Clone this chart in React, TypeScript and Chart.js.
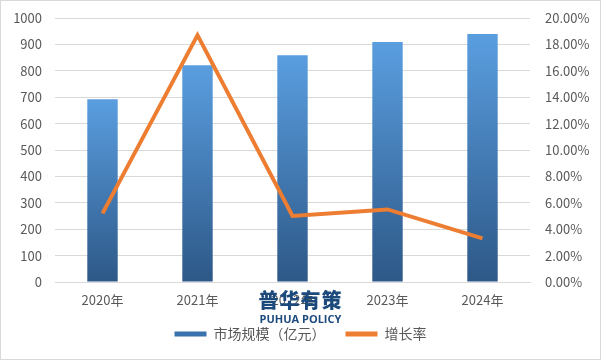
import React, { useEffect, useRef } from "react";
import { Chart, registerables } from "chart.js";

Chart.register(...registerables);

const categories = ["2020年", "2021年", "2022年", "2023年", "2024年"];
const marketSize = [692, 821, 859, 909, 939];
const growthRate = [5.2, 18.7, 5.0, 5.5, 3.3];
const seriesNames = ["市场规模（亿元）", "增长率"];

const TICK_COLOR = "#595959";
const FONT = "'Noto Sans CJK SC', 'Noto Sans', sans-serif";

export default function App() {
  const canvasRef = useRef<HTMLCanvasElement | null>(null);

  useEffect(() => {
    const canvas = canvasRef.current;
    if (!canvas) return;
    const chart = new Chart(canvas, {
      type: "bar",
      data: {
        labels: categories,
        datasets: [
          {
            type: "line",
            label: seriesNames[1],
            data: growthRate,
            yAxisID: "y1",
            borderColor: "#ED7D31",
            backgroundColor: "#ED7D31",
            borderWidth: 4,
            pointRadius: 0,
            tension: 0,
            order: 0,
          } as any,
          {
            type: "bar",
            label: seriesNames[0],
            data: marketSize,
            yAxisID: "y",
            categoryPercentage: 1,
            barPercentage: 0.32,
            order: 1,
            backgroundColor: (ctx: any) => {
              const ch = ctx.chart;
              const area = ch.chartArea;
              const yScale = ch.scales && ch.scales.y;
              if (!area || !yScale || ctx.type !== "data") return "#3f7cc0";
              const top = yScale.getPixelForValue(ctx.raw);
              const g = ch.ctx.createLinearGradient(0, top, 0, area.bottom);
              g.addColorStop(0, "#5A9EE0");
              g.addColorStop(1, "#2D5887");
              return g;
            },
          } as any,
        ],
      },
      options: {
        responsive: false,
        animation: false,
        maintainAspectRatio: false,
        layout: { padding: { top: 17, bottom: 8, left: 0, right: 0 } },
        plugins: {
          tooltip: { enabled: false },
          legend: {
            position: "bottom",
            labels: {
              boxWidth: 32,
              boxHeight: 5,
              padding: 20,
              color: TICK_COLOR,
              font: { family: FONT, size: 14 },
              generateLabels: () => [
                {
                  text: seriesNames[0],
                  fillStyle: "#3A72AE",
                  strokeStyle: "#3A72AE",
                  lineWidth: 0,
                  datasetIndex: 1,
                  fontColor: TICK_COLOR,
                },
                {
                  text: seriesNames[1],
                  fillStyle: "#ED7D31",
                  strokeStyle: "#ED7D31",
                  lineWidth: 0,
                  datasetIndex: 0,
                  fontColor: TICK_COLOR,
                },
              ],
            },
          },
        },
        scales: {
          x: {
            grid: { display: false, drawTicks: false },
            border: { display: true, color: "#d9d9d9" },
            ticks: {
              color: TICK_COLOR,
              font: { family: FONT, size: 13 },
              padding: 10,
            },
            afterFit: (s: any) => {
              s.height = 25;
            },
          },
          y: {
            position: "left",
            min: 0,
            max: 1000,
            grid: { color: "#d9d9d9", drawTicks: false },
            border: { display: false },
            ticks: {
              stepSize: 100,
              color: TICK_COLOR,
              font: { family: FONT, size: 13 },
              padding: 13,
              callback: (v: any) => String(v),
            },
            afterFit: (s: any) => {
              s.width = 54;
              s.paddingTop = 0;
              s.paddingBottom = 0;
            },
          },
          y1: {
            position: "right",
            min: 0,
            max: 20,
            grid: { display: false, drawTicks: false },
            border: { display: false },
            ticks: {
              stepSize: 2,
              color: TICK_COLOR,
              font: { family: FONT, size: 13 },
              padding: 15,
              callback: (v: any) => Number(v).toFixed(2) + "%",
            },
            afterFit: (s: any) => {
              s.width = 70;
              s.paddingTop = 0;
              s.paddingBottom = 0;
            },
          },
        },
      },
    });
    return () => chart.destroy();
  }, []);

  return (
    <div
      style={{
        position: "fixed",
        left: 0,
        top: 0,
        width: 601,
        height: 360,
        boxSizing: "border-box",
        border: "1px solid #d9d9d9",
        background: "#fff",
      }}
    >
      <canvas ref={canvasRef} width={599} height={358} style={{ display: "block" }} />
      <div
        style={{
          position: "absolute",
          left: 0,
          width: 599,
          top: 286,
          textAlign: "center",
          pointerEvents: "none",
          color: "#1C4A7C",
          fontFamily: FONT,
        }}
      >
        <div style={{ fontSize: 20, fontWeight: 900, lineHeight: "26px", letterSpacing: 1 }}>普华有策</div>
        <div style={{ fontSize: 11, fontWeight: 700, lineHeight: "12px", fontFamily: "'Open Sans', sans-serif" }}>
          PUHUA POLICY
        </div>
      </div>
    </div>
  );
}
